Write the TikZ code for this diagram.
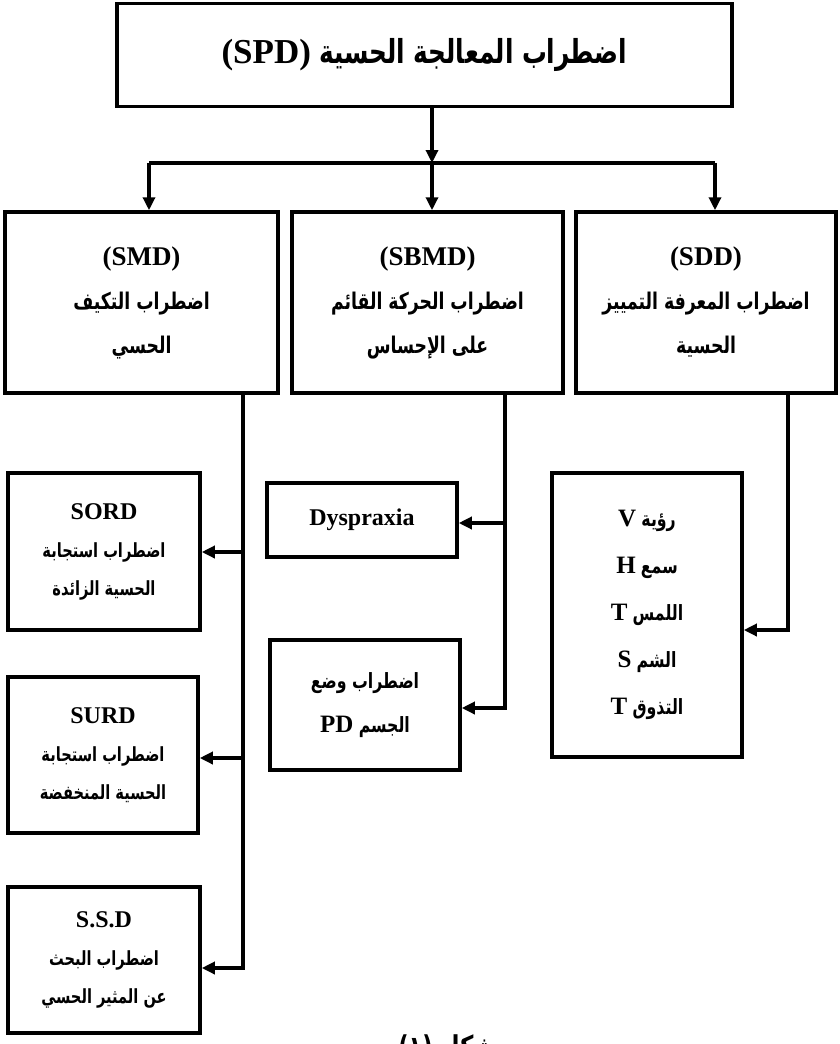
\documentclass[tikz,border=0pt]{standalone}
\usepackage{fontspec}
\setmainfont{Liberation Serif}
\newfontfamily\arfont[Script=Arabic, FakeStretch=0.75]{DejaVu Sans}
\TeXXeTstate=1
\usetikzlibrary{arrows.meta}
\newcommand{\AR}[1]{{\arfont\bfseries #1}}
\newcommand{\RL}[1]{\beginR #1\endR}
\newcommand{\LT}[1]{\beginL{\bfseries #1}\endL}
\tikzset{
  conn/.style={line width=3.5pt},
  arr/.style={line width=3.5pt, -{Triangle[length=13pt,width=12pt]}},
  box/.style={draw, line width=3.5pt, inner sep=0pt, align=center},
  lvltwo/.style={box, minimum height=181pt, font=\fontsize{23}{44}\selectfont},
  leaf/.style={box, font=\fontsize{19.5}{38}\selectfont},
}
\begin{document}
\begin{tikzpicture}[x=1pt,y=-1pt]
\clip (0,0) rectangle (839,1044);
\useasboundingbox (0,0) rectangle (839,1044);
% top
\node[box, minimum width=615pt, minimum height=103pt, font=\fontsize{33}{36}\selectfont] (top) at (424.5,55)
  {\RL{\AR{اضطراب المعالجة الحسية} \LT{\fontsize{35}{36}\selectfont(SPD)}}};
% level two
\node[lvltwo, minimum width=273pt] (smd) at (141.5,302.5)
  {\LT{\fontsize{27}{44}\selectfont(SMD)}\\ \RL{\AR{اضطراب التكيف}}\\ \RL{\AR{الحسي}}};
\node[lvltwo, minimum width=271pt] (sbmd) at (427.5,302.5)
  {\LT{\fontsize{27}{44}\selectfont(SBMD)}\\ \RL{\AR{اضطراب الحركة القائم}}\\ \RL{\AR{على الإحساس}}};
\node[lvltwo, minimum width=260pt] (sdd) at (706,302.5)
  {\LT{\fontsize{27}{44}\selectfont(SDD)}\\ \RL{\AR{اضطراب المعرفة التمييز}}\\ \RL{\AR{الحسية}}};
% leaves left
\node[leaf, minimum width=192pt, minimum height=157pt] (sord) at (104,551.5)
  {\LT{\fontsize{24}{38}\selectfont SORD}\\ \RL{\AR{اضطراب استجابة}}\\ \RL{\AR{الحسية الزائدة}}};
\node[leaf, minimum width=190pt, minimum height=156pt] (surd) at (103,755)
  {\LT{\fontsize{24}{38}\selectfont SURD}\\ \RL{\AR{اضطراب استجابة}}\\ \RL{\AR{الحسية المنخفضة}}};
\node[leaf, minimum width=192pt, minimum height=146pt] (ssd) at (104,960)
  {\LT{\fontsize{24}{34}\selectfont S.S.D}\\ \RL{\AR{اضطراب البحث}}\\ \RL{\AR{عن المثير الحسي}}};
% leaves middle
\node[leaf, minimum width=190pt, minimum height=74pt] (dys) at (362,520)
  {\LT{\fontsize{24}{30}\selectfont Dyspraxia}};
\node[leaf, minimum width=190pt, minimum height=130pt, font=\fontsize{21}{44}\selectfont] (pd) at (365,705)
  {\RL{\AR{اضطراب وضع}}\\ \RL{\AR{الجسم} \LT{\fontsize{25}{44}\selectfont PD}}};
% leaves right
\node[leaf, minimum width=190pt, minimum height=284pt, font=\fontsize{21}{47}\selectfont] (sens) at (647,615)
  {\RL{\AR{رؤية} \LT{\fontsize{25}{47}\selectfont V}}\\
   \RL{\AR{سمع} \LT{\fontsize{25}{47}\selectfont H}}\\
   \RL{\AR{اللمس} \LT{\fontsize{25}{47}\selectfont T}}\\
   \RL{\AR{الشم} \LT{\fontsize{25}{47}\selectfont S}}\\
   \RL{\AR{التذوق} \LT{\fontsize{25}{47}\selectfont T}}};
% caption (cut by page edge, as in the reference)
\node[anchor=north, inner sep=0pt, font=\fontsize{30}{34}\selectfont] (cap) at (447,1034)
  {\RL{\AR{شكل} \beginL\AR{(١)}\endL}};
% connectors top
\coordinate (j) at (432,163);
\coordinate (jl) at (149,163);
\coordinate (jr) at (715,163);
\draw[arr] (j |- top.south) -- (j);
\draw[conn] (jl) -- (jr);
\draw[arr] (jl) -- (jl |- smd.north);
\draw[arr] (j) -- (j |- sbmd.north);
\draw[arr] (jr) -- (jr |- sdd.north);
% SMD branch
\coordinate (m1) at (243,552);
\coordinate (m2) at (243,758);
\coordinate (m3) at (243,968);
\draw[conn] (m1 |- smd.south) -- (m3);
\draw[arr] (m1) -- (m1 -| sord.east);
\draw[arr] (m2) -- (m2 -| surd.east);
\draw[arr] ([xshift=1.75pt]m3) -- (m3 -| ssd.east);
% SBMD branch
\coordinate (b1) at (505,523);
\coordinate (b2) at (505,708);
\draw[conn] (b1 |- sbmd.south) -- (b2);
\draw[arr] (b1) -- (b1 -| dys.east);
\draw[arr] ([xshift=1.75pt]b2) -- (b2 -| pd.east);
% SDD branch
\coordinate (d1) at (788,630);
\draw[conn] (d1 |- sdd.south) -- (d1);
\draw[arr] ([xshift=1.75pt]d1) -- (d1 -| sens.east);
\end{tikzpicture}
\end{document}
